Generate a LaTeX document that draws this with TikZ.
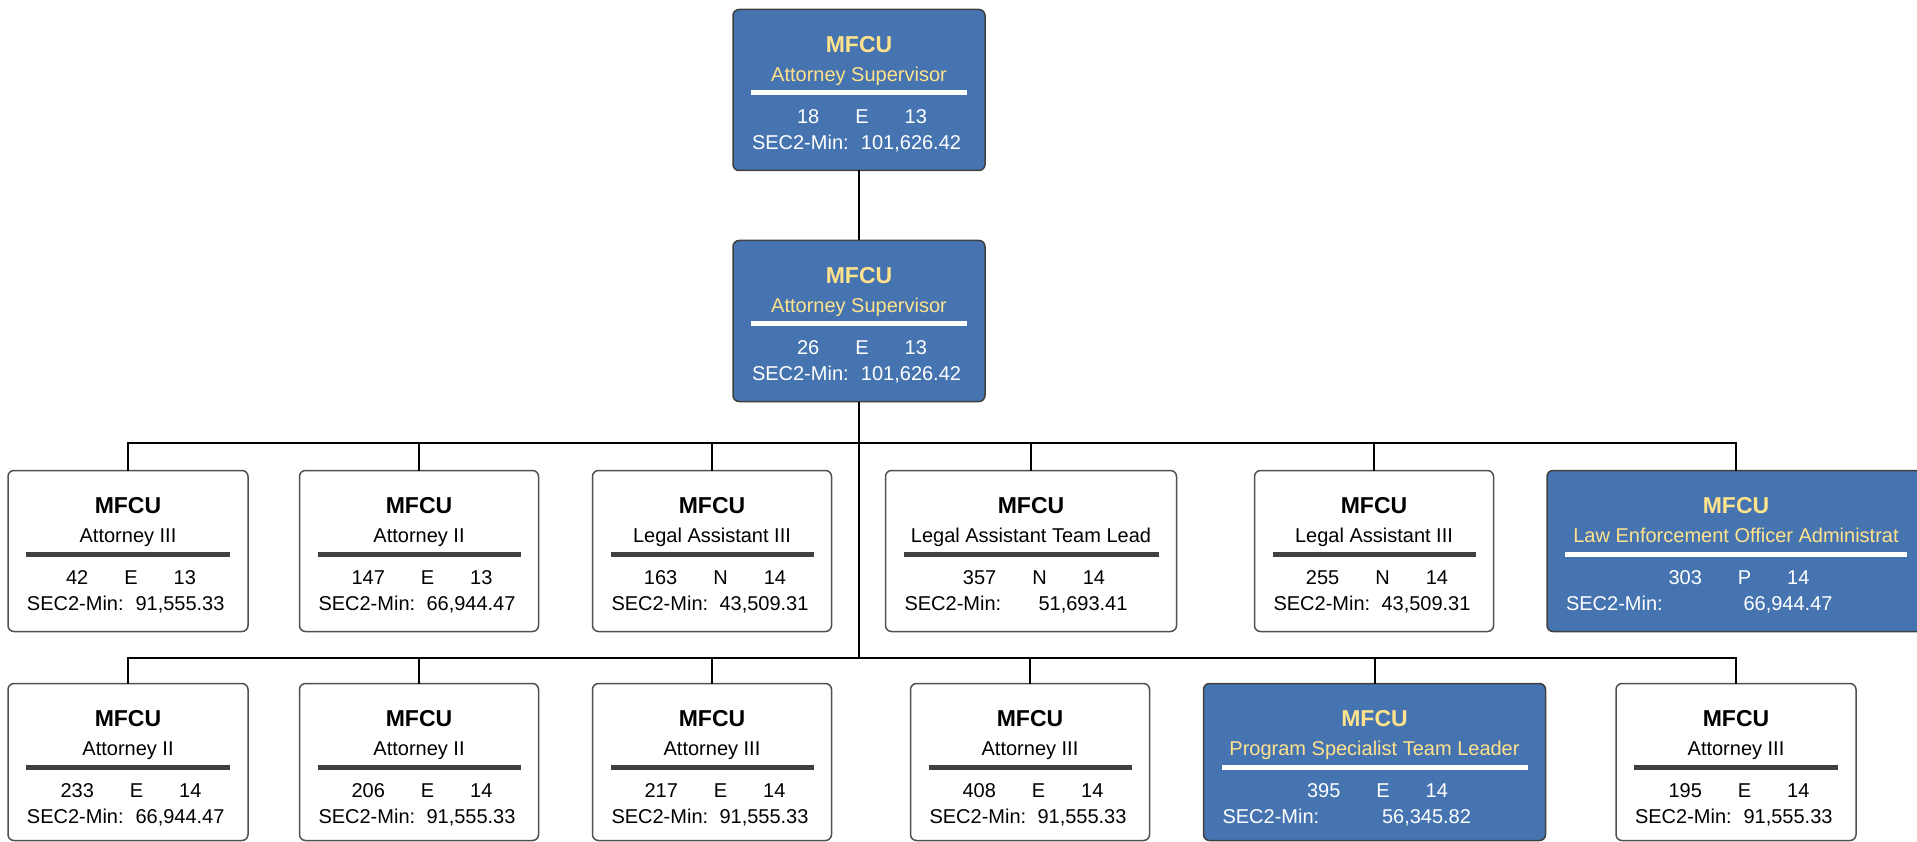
\documentclass[tikz,border=0pt]{standalone}
\usepackage{fontspec}
\setmainfont{Liberation Sans}
\definecolor{boxblue}{RGB}{70,116,176}
\definecolor{headyellow}{RGB}{255,226,140}
\definecolor{sepgray}{RGB}{64,64,64}
\definecolor{edgegray}{RGB}{80,80,80}
\newcommand{\boxh}{161}
\newcommand{\dg}{\hspace{36pt}}
\tikzset{
  conn/.style={draw=black, line width=2pt},
  wframe/.style={draw=edgegray, fill=white, line width=1.5pt, rounded corners=6pt},
  bframe/.style={draw=sepgray, fill=boxblue, line width=1.5pt, rounded corners=6pt},
  whead/.style={font=\fontsize{23}{26}\selectfont\bfseries, text=black},
  bhead/.style={font=\fontsize{23}{26}\selectfont\bfseries, text=headyellow},
  wtitle/.style={font=\fontsize{20}{23}\selectfont, text=black},
  btitle/.style={font=\fontsize{20}{23}\selectfont, text=headyellow},
  wtext/.style={font=\fontsize{20}{23}\selectfont, text=black},
  btext/.style={font=\fontsize{20}{23}\selectfont, text=white},
  wsep/.style={draw=sepgray, line width=5pt},
  bsep/.style={draw=white, line width=5pt},
  every node/.style={inner sep=0pt, outer sep=0pt}
}
% #1 name, #2 kind (w/b), #3 centre x, #4 top y, #5 width, #6 title, #7 data line, #8 salary
\newcommand{\orgbox}[8]{%
  \node[#2frame, minimum width=#5pt, minimum height=\boxh pt, anchor=north] (#1) at (#3pt,-#4pt) {};
  \node[#2head, anchor=base] (#1-h) at ([yshift=-43pt]#1.north) {MFCU};
  \node[#2title, anchor=base] (#1-t) at ([yshift=-72pt]#1.north) {#6};
  \draw[#2sep] ([xshift=18pt,yshift=-83.5pt]#1.north west) -- ([xshift=-18pt,yshift=-83.5pt]#1.north east);
  \node[#2text, anchor=base] (#1-d) at ([xshift=3pt,yshift=-114pt]#1.north) {#7};
  \node[#2text, anchor=base west] (#1-s) at ([xshift=19pt,yshift=-140pt]#1.north west) {SEC2-Min:};
  \node[#2text, anchor=base] (#1-v) at ([xshift=52pt,yshift=-140pt]#1.north) {#8};
}
\begin{document}
\begin{tikzpicture}[x=1pt,y=1pt]
\useasboundingbox (0,0) rectangle (1917,-842);
\orgbox{A}{b}{859}{9.5}{252}{Attorney Supervisor}{18\dg E\dg 13}{101,626.42}
\orgbox{B}{b}{859}{240.5}{252}{Attorney Supervisor}{26\dg E\dg 13}{101,626.42}
% row 1
\orgbox{ra}{w}{128}{470.5}{240}{Attorney III}{42\dg E\dg 13}{91,555.33}
\orgbox{rb}{w}{419}{470.5}{239}{Attorney II}{147\dg E\dg 13}{66,944.47}
\orgbox{rc}{w}{712}{470.5}{239}{Legal Assistant III}{163\dg N\dg 14}{43,509.31}
\orgbox{rd}{w}{1031}{470.5}{291}{Legal Assistant Team Lead}{357\dg N\dg 14}{51,693.41}
\orgbox{re}{w}{1374}{470.5}{239}{Legal Assistant III}{255\dg N\dg 14}{43,509.31}
\orgbox{rf}{b}{1736}{470.5}{378}{Law Enforcement Officer Administrat}{303\dg P\dg 14}{66,944.47}
% row 2
\renewcommand{\boxh}{157}
\orgbox{sa}{w}{128}{683.5}{240}{Attorney II}{233\dg E\dg 14}{66,944.47}
\orgbox{sb}{w}{419}{683.5}{239}{Attorney II}{206\dg E\dg 14}{91,555.33}
\orgbox{sc}{w}{712}{683.5}{239}{Attorney III}{217\dg E\dg 14}{91,555.33}
\orgbox{sd}{w}{1030}{683.5}{239}{Attorney III}{408\dg E\dg 14}{91,555.33}
\orgbox{se}{b}{1374.5}{683.5}{342}{Program Specialist Team Leader}{395\dg E\dg 14}{56,345.82}
\orgbox{sf}{w}{1736}{683.5}{240}{Attorney III}{195\dg E\dg 14}{91,555.33}
% connectors
\coordinate (bus1) at (859,-443);
\coordinate (bus2) at (859,-657.5);
\draw[conn] (A.south) -- (B.north);
\draw[conn] (B.south) -- (bus2);
\foreach \n in {ra,rb,rc,rd,re,rf}{\draw[conn] (\n.north) |- (bus1);}
\foreach \n in {sa,sb,sc,sd,se,sf}{\draw[conn] (\n.north) |- (bus2);}
\end{tikzpicture}
\end{document}
